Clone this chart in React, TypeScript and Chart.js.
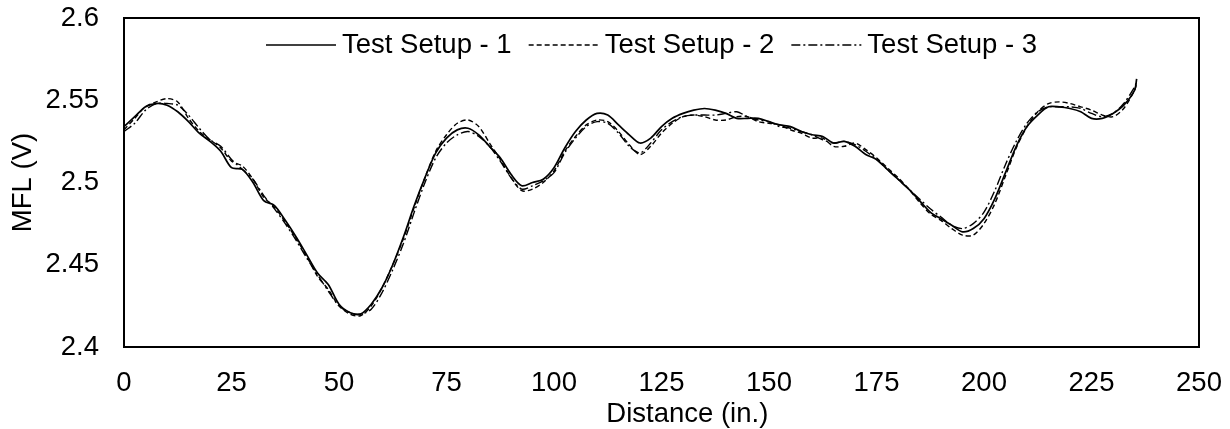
import React, { useEffect, useRef } from "react";
import { Chart, registerables } from "chart.js";

Chart.register(...registerables);

// ---------- data ----------
const distance = [
  0, 2.5, 5, 7.5, 10, 12.5, 15, 17.5, 20, 22.5, 25, 27.5, 30, 32.5, 35, 37.5, 40, 42.5, 45, 47.5,
  50, 52.5, 55, 57.5, 60, 62.5, 65, 67.5, 70, 72.5, 75, 77.5, 80, 82.5, 85, 87.5, 90, 92.5, 95, 97.5,
  100, 102.5, 105, 107.5, 110, 112.5, 115, 117.5, 120, 122.5, 125, 127.5, 130, 132.5, 135, 137.5, 140, 142.5, 145, 147.5,
  150, 152.5, 155, 157.5, 160, 162.5, 165, 167.5, 170, 172.5, 175, 177.5, 180, 182.5, 185, 187.5, 190, 192.5, 195, 197.5,
  200, 202.5, 205, 207.5, 210, 212.5, 215, 217.5, 220, 222.5, 225, 227.5, 230, 232.5, 235, 235.5,
];

const setup1 = [
  2.534, 2.54, 2.546, 2.548, 2.547, 2.543, 2.537, 2.53, 2.525, 2.519, 2.509, 2.508, 2.5, 2.489, 2.486, 2.477, 2.467, 2.456, 2.445, 2.438,
  2.426, 2.421, 2.42, 2.426, 2.436, 2.45, 2.467, 2.486, 2.503, 2.518, 2.527, 2.532, 2.533, 2.529, 2.522, 2.515, 2.505, 2.498, 2.5, 2.502,
  2.509, 2.521, 2.531, 2.538, 2.542, 2.541, 2.535, 2.529, 2.524, 2.527, 2.534, 2.539, 2.542, 2.544, 2.545, 2.544, 2.542, 2.539, 2.539, 2.539,
  2.537, 2.535, 2.534, 2.531, 2.529, 2.528, 2.524, 2.525, 2.522, 2.517, 2.514, 2.508, 2.502, 2.496, 2.489, 2.482, 2.478, 2.474, 2.47, 2.472,
  2.478, 2.49, 2.506, 2.522, 2.534, 2.541, 2.546, 2.546, 2.545, 2.543, 2.539, 2.539, 2.542, 2.547, 2.556, 2.563,
];

const setup2 = [
  2.532, 2.539, 2.546, 2.549, 2.551, 2.549, 2.539, 2.531, 2.526, 2.521, 2.513, 2.51, 2.502, 2.491, 2.485, 2.476, 2.466, 2.455, 2.443, 2.435,
  2.425, 2.42, 2.419, 2.425, 2.436, 2.45, 2.466, 2.485, 2.503, 2.519, 2.529, 2.536, 2.538, 2.534, 2.524, 2.514, 2.503, 2.495, 2.496, 2.5,
  2.507, 2.519, 2.528, 2.535, 2.538, 2.537, 2.531, 2.523, 2.517, 2.522, 2.53, 2.536, 2.54, 2.541, 2.54, 2.538, 2.538, 2.54, 2.54, 2.537,
  2.536, 2.535, 2.532, 2.53, 2.527, 2.527, 2.522, 2.522, 2.524, 2.52, 2.515, 2.509, 2.503, 2.496, 2.488, 2.481, 2.477, 2.472, 2.468, 2.468,
  2.475, 2.487, 2.504, 2.521, 2.534, 2.543, 2.548, 2.549, 2.548, 2.546, 2.544, 2.541, 2.54, 2.545, 2.556, 2.56,
];

const setup3 = [
  2.531, 2.536, 2.544, 2.548, 2.548, 2.547, 2.541, 2.533, 2.526, 2.522, 2.514, 2.508, 2.502, 2.492, 2.484, 2.475, 2.465, 2.454, 2.444, 2.434,
  2.425, 2.421, 2.42, 2.423, 2.433, 2.447, 2.463, 2.482, 2.5, 2.515, 2.524, 2.529, 2.531, 2.528, 2.522, 2.513, 2.503, 2.496, 2.498, 2.501,
  2.506, 2.518, 2.527, 2.534, 2.537, 2.536, 2.53, 2.522, 2.518, 2.524, 2.532, 2.537, 2.54, 2.541, 2.541, 2.541, 2.542, 2.543, 2.54, 2.538,
  2.537, 2.534, 2.533, 2.531, 2.529, 2.526, 2.524, 2.525, 2.523, 2.519, 2.514, 2.508, 2.502, 2.496, 2.49, 2.484, 2.479, 2.474, 2.472, 2.475,
  2.482, 2.495, 2.511, 2.525, 2.536, 2.543, 2.546, 2.546, 2.546, 2.545, 2.542, 2.54, 2.542, 2.548, 2.558, 2.561,
];

const seriesLabels = ["Test Setup - 1", "Test Setup - 2", "Test Setup - 3"];
const xAxisTitle = "Distance (in.)";
const yAxisTitle = "MFL (V)";

// ---------- styles ----------
const FONT = "'Liberation Sans', Arial, Helvetica, sans-serif";
const FONT_SIZE = 27.5;

const frameAndLegend = {
  id: "frameAndLegend",
  afterDatasetsDraw(chart: any) {
    const { ctx, chartArea } = chart;
    ctx.save();
    // frame
    ctx.strokeStyle = "#000";
    ctx.lineWidth = 2;
    ctx.setLineDash([]);
    ctx.strokeRect(chartArea.left, chartArea.top, chartArea.right - chartArea.left, chartArea.bottom - chartArea.top);

    // legend inside plot
    ctx.font = `${FONT_SIZE}px ${FONT}`;
    const sample = 70, gap = 6, spacing = 17;
    const ds = chart.data.datasets;
    const widths = ds.map((d: any) => ctx.measureText(d.label).width);
    const total = widths.reduce((a: number, w: number) => a + sample + gap + w, 0) + spacing * (ds.length - 1);
    let x = (chartArea.left + chartArea.right) / 2 - 10 - total / 2;
    const y = chartArea.top + 27;
    ds.forEach((d: any, i: number) => {
      ctx.beginPath();
      ctx.setLineDash(d.borderDash || []);
      ctx.lineWidth = d.borderWidth;
      ctx.strokeStyle = d.borderColor;
      ctx.moveTo(x, y);
      ctx.lineTo(x + sample, y);
      ctx.stroke();
      ctx.setLineDash([]);
      ctx.fillStyle = "#000";
      ctx.textBaseline = "middle";
      ctx.textAlign = "left";
      ctx.fillText(d.label, x + sample + gap, y);
      x += sample + gap + widths[i] + spacing;
    });

    // x axis title (offset to the right as in the source figure)
    ctx.textAlign = "center";
    ctx.textBaseline = "middle";
    const cx = chartArea.left + (chartArea.right - chartArea.left) * 0.524;
    ctx.fillText(xAxisTitle, cx, chartArea.bottom + 67);
    ctx.restore();
  },
};

export default function App() {
  const ref = useRef<HTMLCanvasElement | null>(null);

  useEffect(() => {
    if (!ref.current) return;
    const mk = (vals: number[]) => distance.map((x, i) => ({ x, y: vals[i] }));
    const chart = new Chart(ref.current, {
      type: "line",
      data: {
        datasets: [
          { label: seriesLabels[0], data: mk(setup1), borderColor: "#000", borderWidth: 1.7, borderDash: [], pointRadius: 0, tension: 0.3, fill: false },
          { label: seriesLabels[1], data: mk(setup2), borderColor: "#000", borderWidth: 1.4, borderDash: [5, 3], pointRadius: 0, tension: 0.3, fill: false },
          { label: seriesLabels[2], data: mk(setup3), borderColor: "#000", borderWidth: 1.4, borderDash: [9, 3, 2, 3], pointRadius: 0, tension: 0.3, fill: false },
        ],
      },
      options: {
        responsive: false,
        animation: false,
        layout: { padding: { top: 18, right: 31, left: 0, bottom: 0 } },
        plugins: { legend: { display: false }, tooltip: { enabled: false } },
        scales: {
          x: {
            type: "linear",
            min: 0,
            max: 250,
            grid: { display: false },
            border: { display: false },
            ticks: {
              stepSize: 25,
              padding: 12,
              color: "#000",
              font: { family: FONT, size: FONT_SIZE },
              maxRotation: 0,
              callback: (v: any) => String(v),
            },
            afterFit: (s: any) => {
              s.height = 82;
              s.paddingLeft = 0;
              s.paddingRight = 0;
            },
          },
          y: {
            type: "linear",
            min: 2.4,
            max: 2.6,
            grid: { display: false },
            border: { display: false },
            ticks: {
              stepSize: 0.05,
              padding: 17,
              color: "#000",
              font: { family: FONT, size: FONT_SIZE },
              callback: (v: any) => String(Number(Number(v).toFixed(2))),
            },
            title: {
              display: true,
              text: yAxisTitle,
              color: "#000",
              font: { family: FONT, size: FONT_SIZE },
              padding: { top: 7, bottom: 0 },
            },
            afterFit: (s: any) => {
              s.width = 124;
              s.paddingTop = 0;
              s.paddingBottom = 0;
            },
          },
        },
      },
      plugins: [frameAndLegend],
    });
    return () => chart.destroy();
  }, []);

  return (
    <div style={{ position: "fixed", left: 0, top: 0, width: 1230, height: 429, background: "#fff" }}>
      <canvas ref={ref} width={1230} height={429} style={{ width: 1230, height: 429, display: "block" }} />
    </div>
  );
}
